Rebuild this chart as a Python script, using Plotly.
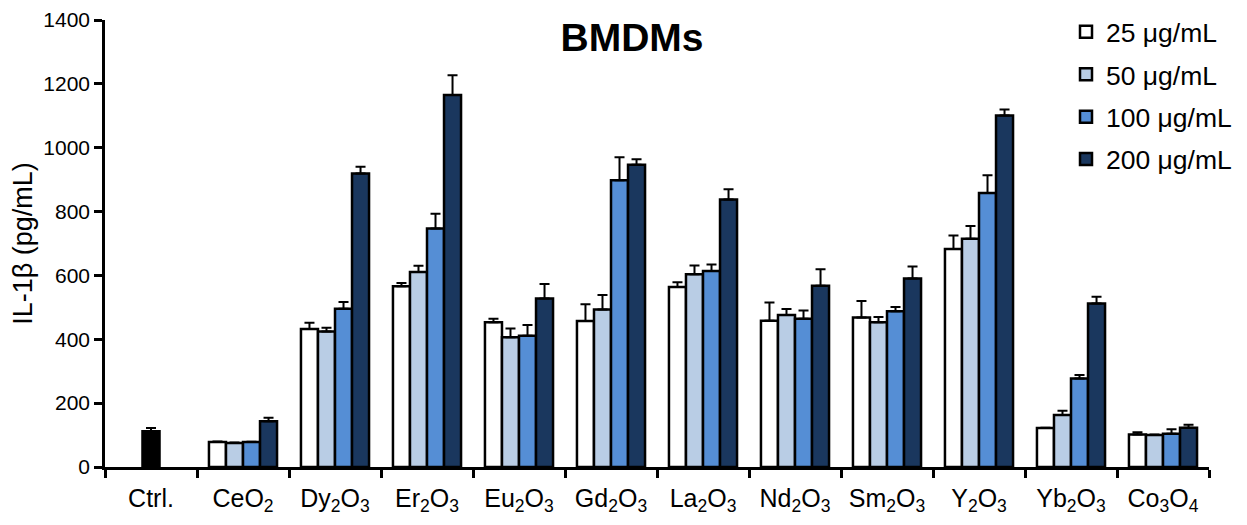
import plotly.graph_objects as go

categories = ["Ctrl.", "CeO<sub>2</sub>", "Dy<sub>2</sub>O<sub>3</sub>", "Er<sub>2</sub>O<sub>3</sub>",
              "Eu<sub>2</sub>O<sub>3</sub>", "Gd<sub>2</sub>O<sub>3</sub>", "La<sub>2</sub>O<sub>3</sub>",
              "Nd<sub>2</sub>O<sub>3</sub>", "Sm<sub>2</sub>O<sub>3</sub>", "Y<sub>2</sub>O<sub>3</sub>",
              "Yb<sub>2</sub>O<sub>3</sub>", "Co<sub>3</sub>O<sub>4</sub>"]
oxides = categories[1:]

ctrl_value = [112]
ctrl_err = [10]

series_names = ["25 μg/mL", "50 μg/mL", "100 μg/mL", "200 μg/mL"]
v25 = [78, 432, 566, 453, 457, 564, 458, 468, 683, 122, 102]
e25 = [2, 20, 10, 11, 53, 15, 57, 52, 42, 1, 7]
v50 = [75, 424, 611, 406, 493, 604, 476, 453, 715, 163, 100]
e50 = [2, 12, 19, 28, 46, 27, 19, 17, 40, 13, 2]
v100 = [78, 496, 747, 411, 898, 614, 464, 488, 858, 277, 104]
e100 = [1, 21, 46, 34, 72, 20, 26, 13, 56, 11, 14]
v200 = [143, 919, 1165, 528, 947, 838, 568, 590, 1101, 512, 123]
e200 = [11, 21, 62, 45, 17, 32, 51, 38, 19, 21, 9]

values = [v25, v50, v100, v200]
errors = [e25, e50, e100, e200]
colors = ["#FFFFFF", "#B9CDE5", "#558ED5", "#1A375E"]

FONT = "Arial, Liberation Sans, sans-serif"
bw = 0.185
offsets = [-2 * bw, -bw, 0, bw]

# page has an 8px body margin; figure sized to fit the window
W, H = 1239, 517
ML, MR, MT, MB = 97, 38, 12, 58
PW = W - ML - MR
PH = H - MT - MB

fig = go.Figure()
fig.add_trace(go.Bar(
    x=["Ctrl."], y=ctrl_value, width=bw, offset=-bw / 2,
    marker=dict(color="black", line=dict(color="black", width=2.5)),
    error_y=dict(type="data", array=ctrl_err, arrayminus=[0], symmetric=False,
                 color="black", thickness=2, width=5),
    showlegend=False,
))
for i, (name, v, e, c, off) in enumerate(zip(series_names, values, errors, colors, offsets)):
    fig.add_trace(go.Bar(
        x=oxides, y=v, name=name, width=bw, offset=off, legendgroup=f"g{i}",
        marker=dict(color=c, line=dict(color="black", width=2.5)),
        error_y=dict(type="data", array=e, arrayminus=[0] * len(e), symmetric=False,
                     color="black", thickness=2, width=5),
    ))

fig.update_layout(
    width=W, height=H,
    barmode="overlay",
    paper_bgcolor="white", plot_bgcolor="white",
    margin=dict(l=ML, r=MR, t=MT, b=MB, autoexpand=False),
    font=dict(family=FONT, color="black"),
    title=dict(text="<b>BMDMs</b>", x=624 / W, xanchor="center", xref="container",
               y=1 - 29 / H, yanchor="middle", yref="container",
               font=dict(size=39, family=FONT, color="black")),
    legend=dict(x=(1058 - ML) / PW, xanchor="left", y=1 + 12 / PH, yanchor="top",
                font=dict(size=26.5, family=FONT), bgcolor="rgba(0,0,0,0)",
                traceorder="grouped", tracegroupgap=5),
    xaxis=dict(type="category", categoryorder="array", categoryarray=categories,
               range=[-0.5, 11.5], showline=True, linecolor="black", linewidth=2.5,
               ticks="outside", tickson="boundaries", ticklen=8, tickwidth=2.5,
               tickcolor="black", tickfont=dict(size=25, family=FONT),
               ticklabelstandoff=7,
               showgrid=False, zeroline=False),
    yaxis=dict(range=[0, 1400], tickvals=[0, 200, 400, 600, 800, 1000, 1200, 1400],
               showline=True, linecolor="black", linewidth=2.5,
               ticks="outside", ticklen=8, tickwidth=2.5, tickcolor="black",
               tickfont=dict(size=21, family=FONT), showgrid=False, zeroline=False,
               title=dict(text="IL-1β (pg/mL)", font=dict(size=27, family=FONT),
                          standoff=5)),
)

fig.write_html("out.html")
